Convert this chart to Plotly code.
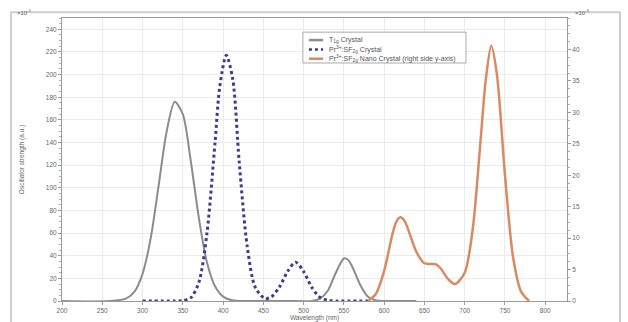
import plotly.graph_objects as go

# ---- data ----
gray_x = [200, 260, 280, 290, 300, 310, 320, 330, 340, 350, 360, 370, 380, 390, 400, 410, 420,
          440, 480, 510, 520, 530, 540, 550, 555, 560, 570, 580, 590, 600, 640]
gray_y = [0, 0, 2.3, 8.2, 24, 55, 102, 150, 176, 165, 123, 73, 34, 13, 3.9, 0.9, 0.1,
          0, 0, 0, 1.8, 9, 25, 37.5, 36.5, 31, 14.6, 3.7, 0.5, 0, 0]

blue_x = [300, 340, 350, 360, 370, 380, 390, 396, 404, 412, 420, 430, 440, 452, 460, 470, 480,
          490, 500, 510, 520, 530, 540, 580]
blue_y = [0, 0, 0.3, 2.9, 16.6, 60, 140, 190, 217, 196, 123, 48, 12, 2.2, 3.7, 12.3, 26,
          34.3, 26, 12.3, 3.4, 0.6, 0, 0]

orange_x = [580, 590, 600, 610, 615, 620, 625, 630, 640, 650, 660, 665, 670, 680, 688, 700,
            710, 720, 726, 733, 740, 750, 760, 770, 780]
orange_y = [0, 1.2, 4.8, 10.5, 12.6, 13.3, 12.8, 11.3, 7.8, 6.0, 5.9, 5.8, 5.2, 3.4, 2.7, 4.5,
            11.5, 26, 35, 40.6, 36, 20, 7, 1.5, 0]

names = ["T<sub>1g</sub> Crystal",
         "Pr<sup>3+</sup>:SF<sub>2g</sub> Crystal",
         "Pr<sup>3+</sup>:SF<sub>2g</sub> Nano Crystal (right side y-axis)"]
colors = ["#8c8c8c", "#3d3d8f", "#d98a62"]

x_ticks = [200, 250, 300, 350, 400, 450, 500, 550, 600, 650, 700, 750, 800]
left_ticks = [0, 20, 40, 60, 80, 100, 120, 140, 160, 180, 200, 220, 240]
right_ticks = [0, 5, 10, 15, 20, 25, 30, 35, 40]

FONT = "Liberation Sans"
TXT = "#666666"

fig = go.Figure()
fig.add_trace(go.Scatter(x=gray_x, y=gray_y, mode="lines", name=names[0],
                         line=dict(color=colors[0], width=2, shape="spline", smoothing=0.8)))
fig.add_trace(go.Scatter(x=blue_x, y=blue_y, mode="lines", name=names[1],
                         line=dict(color=colors[1], width=3, dash="dot", shape="spline", smoothing=0.8)))
fig.add_trace(go.Scatter(x=orange_x, y=orange_y, mode="lines", name=names[2], yaxis="y2",
                         line=dict(color=colors[2], width=2.5, shape="spline", smoothing=0.8)))

axis_common = dict(showline=True, linecolor="#9a9a9a", linewidth=1, automargin=False,
                   ticks="outside", ticklen=3, tickcolor="#9a9a9a",
                   tickfont=dict(size=6.5, color=TXT, family=FONT), zeroline=False)

# compact legend box (drawn as annotations + sample lines)
leg_x0, leg_x1, leg_y0, leg_y1 = 0.477, 0.800, 0.841, 0.950
row_y = [0.922, 0.889, 0.856]
shapes = [
    dict(type="rect", xref="paper", yref="paper", x0=-0.101, x1=1.105, y0=-0.2, y1=1.02,
         line=dict(color="#cfcfcf", width=2), layer="below"),
    dict(type="rect", xref="paper", yref="paper", x0=leg_x0, x1=leg_x1, y0=leg_y0, y1=leg_y1,
         line=dict(color="#aaaaaa", width=1), fillcolor="white", layer="above"),
]
annotations = [
    dict(text="×10<sup>-3</sup>", xref="paper", yref="paper", x=-0.075, y=1.0,
         xanchor="center", yanchor="bottom", showarrow=False, font=dict(size=6, color=TXT)),
    dict(text="×10<sup>-3</sup>", xref="paper", yref="paper", x=1.03, y=1.0,
         xanchor="center", yanchor="bottom", showarrow=False, font=dict(size=6, color=TXT)),
]
for i, (nm, col) in enumerate(zip(names, colors)):
    shapes.append(dict(type="line", xref="paper", yref="paper", x0=0.489, x1=0.517,
                       y0=row_y[i], y1=row_y[i], layer="above",
                       line=dict(color=col, width=2.5, dash="dot" if i == 1 else "solid")))
    annotations.append(dict(text=nm, xref="paper", yref="paper", x=0.525, y=row_y[i],
                            xanchor="left", yanchor="middle", showarrow=False,
                            font=dict(size=7, color="#555555", family=FONT)))

fig.update_layout(
    width=628, height=322,
    margin=dict(l=62, r=61, t=18, b=21),
    paper_bgcolor="white", plot_bgcolor="white",
    font=dict(family=FONT, size=6.5, color=TXT),
    showlegend=False,
    xaxis=dict(range=[200, 827], tickvals=x_ticks, ticktext=[str(v) for v in x_ticks],
               showgrid=True, gridcolor="#ebebeb", mirror=True,
               title=dict(text="Wavelength (nm)", font=dict(size=6.5, color=TXT), standoff=1),
               **axis_common),
    yaxis=dict(range=[0, 250], tickvals=left_ticks, ticktext=[str(v) for v in left_ticks],
               showgrid=True, gridcolor="#ebebeb",
               minor=dict(ticklen=2, dtick=5, showgrid=False, tickcolor="#b0b0b0"),
               title=dict(text="Oscillator strength (a.u.)", font=dict(size=6.5, color=TXT), standoff=20),
               **axis_common),
    yaxis2=dict(range=[0, 45], tickvals=right_ticks, ticktext=[str(v) for v in right_ticks],
                overlaying="y", side="right", showgrid=False,
                minor=dict(ticklen=2, dtick=1.25, tickcolor="#b0b0b0"),
                **axis_common),
    annotations=annotations,
    shapes=shapes,
)

fig.write_html("out.html", config={"displayModeBar": False},
               post_script="document.body.style.margin='0';document.body.style.padding='0';")
